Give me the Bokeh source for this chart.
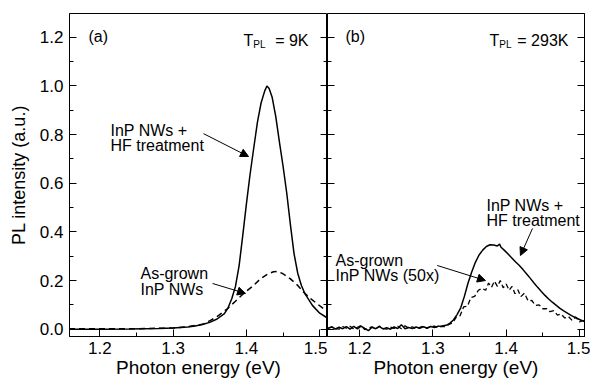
from bokeh.plotting import figure
from bokeh.layouts import row
from bokeh.models import Range1d, LinearAxis, FixedTicker, Label, Arrow, NormalHead
from bokeh.embed import file_html
from bokeh.resources import INLINE

# ---------------- data ----------------
# panel (a): T_PL = 9K
a_hf_x = [1.158, 1.20, 1.24, 1.28, 1.30, 1.32, 1.33, 1.34, 1.35, 1.36, 1.37, 1.375,
          1.38, 1.385, 1.39, 1.395, 1.40, 1.405, 1.41, 1.415, 1.42, 1.425, 1.428,
          1.431, 1.435, 1.44, 1.445, 1.45, 1.455, 1.46, 1.465, 1.47, 1.475, 1.48,
          1.49, 1.50, 1.511]
a_hf_y = [0.0, 0.0, 0.001, 0.003, 0.005, 0.009, 0.013, 0.019, 0.028, 0.042, 0.064, 0.088,
          0.125, 0.175, 0.26, 0.385, 0.515, 0.637, 0.745, 0.85, 0.93, 0.98, 1.0,
          0.99, 0.955, 0.875, 0.77, 0.67, 0.56, 0.43, 0.31, 0.23, 0.18, 0.145,
          0.098, 0.066, 0.045]

a_ag_x = [1.158, 1.25, 1.30, 1.32, 1.34, 1.351, 1.36, 1.374, 1.385, 1.3965, 1.41,
          1.419, 1.43, 1.437, 1.442, 1.45, 1.46, 1.47, 1.478, 1.488, 1.4966, 1.505, 1.511]
a_ag_y = [0.002, 0.002, 0.005, 0.01, 0.02, 0.036, 0.052, 0.084, 0.115, 0.148, 0.18,
          0.207, 0.228, 0.236, 0.238, 0.228, 0.207, 0.18, 0.152, 0.125, 0.104, 0.085, 0.072]

# panel (b): T_PL = 293K
b_hf_x = [1.157, 1.162, 1.167, 1.172, 1.177, 1.182, 1.187, 1.192, 1.197, 1.202, 1.207,
          1.212, 1.217, 1.222, 1.227, 1.232, 1.237, 1.242, 1.247, 1.252, 1.257, 1.262,
          1.267, 1.272, 1.277, 1.282, 1.287, 1.292, 1.297, 1.302, 1.307, 1.312, 1.318,
          1.323, 1.328, 1.333, 1.338, 1.343, 1.348, 1.353, 1.358, 1.363, 1.368, 1.373,
          1.378, 1.383, 1.388, 1.391, 1.393, 1.398, 1.403, 1.408, 1.413, 1.418, 1.423,
          1.428, 1.433, 1.438, 1.443, 1.448, 1.453, 1.458, 1.463, 1.468, 1.473, 1.478,
          1.483, 1.488, 1.493, 1.498, 1.503, 1.508]
b_hf_y = [0.004, 0.009, 0.001, 0.008, 0.002, 0.011, 0.000, 0.012, 0.001, 0.013, 0.003,
          -0.006, 0.008, 0.002, 0.011, 0.001, 0.006, 0.000, 0.009, 0.003, 0.018, 0.002,
          0.007, 0.003, 0.009, 0.004, 0.010, 0.005, 0.011, 0.007, 0.012, 0.013, 0.016,
          0.024, 0.038, 0.060, 0.088, 0.135, 0.19, 0.235, 0.275, 0.305, 0.325, 0.34,
          0.347, 0.346, 0.342, 0.350, 0.337, 0.323, 0.308, 0.292, 0.276, 0.262, 0.245,
          0.227, 0.209, 0.19, 0.172, 0.155, 0.139, 0.124, 0.111, 0.099, 0.087, 0.076,
          0.067, 0.058, 0.05, 0.043, 0.036, 0.03]

b_ag_x = [1.157, 1.162, 1.167, 1.172, 1.177, 1.182, 1.187, 1.192, 1.197, 1.202, 1.207,
          1.212, 1.217, 1.222, 1.227, 1.232, 1.237, 1.242, 1.247, 1.252, 1.257, 1.262,
          1.267, 1.272, 1.277, 1.282, 1.287, 1.292, 1.297, 1.302, 1.307, 1.312, 1.317,
          1.322, 1.327, 1.332, 1.337, 1.342, 1.347, 1.352, 1.357, 1.362, 1.367, 1.372,
          1.376, 1.380, 1.384, 1.388, 1.392, 1.396, 1.400, 1.404, 1.408, 1.412, 1.416,
          1.420, 1.425, 1.430, 1.435, 1.440, 1.445, 1.450, 1.455, 1.460, 1.465, 1.470,
          1.475, 1.480, 1.485, 1.490, 1.495, 1.500, 1.505, 1.508]
b_ag_y = [0.003, 0.010, 0.002, 0.000, 0.011, 0.004, 0.012, 0.001, 0.008, 0.015, -0.002,
          0.005, 0.010, 0.001, 0.013, 0.004, 0.000, 0.009, 0.003, 0.012, 0.002, 0.014,
          0.004, 0.010, 0.001, 0.008, 0.012, 0.003, 0.011, 0.013, 0.006, 0.012, 0.010,
          0.020, 0.026, 0.050, 0.055, 0.092, 0.094, 0.130, 0.135, 0.160, 0.168, 0.160,
          0.190, 0.172, 0.198, 0.176, 0.200, 0.170, 0.186, 0.160, 0.176, 0.146, 0.162,
          0.134, 0.148, 0.116, 0.118, 0.098, 0.100, 0.084, 0.085, 0.072, 0.076, 0.058,
          0.062, 0.046, 0.052, 0.036, 0.050, 0.030, 0.036, 0.022]

x_ticks = [1.2, 1.3, 1.4, 1.5]
x_tick_labels = ["1.2", "1.3", "1.4", "1.5"]
x_minor = [1.25, 1.35, 1.45]
y_ticks = [0.0, 0.2, 0.4, 0.6, 0.8, 1.0, 1.2]
y_tick_labels = ["0.0", "0.2", "0.4", "0.6", "0.8", "1.0", "1.2"]
y_minor = [0.1, 0.3, 0.5, 0.7, 0.9, 1.1]
x_title = "Photon energy (eV)"
y_title = "PL intensity (a.u.)"

FONT = "Liberation Sans"
TICK_FS = "17px"
ANN_FS = "16px"


def style_axis(ax, ticks, minor, labels, show_labels=True):
    ax.ticker = FixedTicker(ticks=ticks, minor_ticks=minor)
    ax.axis_line_color = "black"
    ax.axis_line_width = 1
    ax.major_tick_line_color = "black"
    ax.minor_tick_line_color = "black"
    ax.major_tick_in = 7
    ax.major_tick_out = 0
    ax.minor_tick_in = 4
    ax.minor_tick_out = 0
    ax.major_label_text_font = FONT
    ax.major_label_text_font_size = TICK_FS
    ax.major_label_text_color = "black"
    ax.axis_label_text_font = FONT
    ax.axis_label_text_font_style = "normal"
    ax.axis_label_text_color = "black"
    if show_labels:
        ax.major_label_overrides = {t: l for t, l in zip(ticks, labels)}
    else:
        ax.major_label_overrides = {t: "" for t in ticks}
        ax.major_label_standoff = 0


def make_fig(xr, width, left_border, right_border):
    p = figure(width=width, height=381, x_range=Range1d(*xr), y_range=Range1d(-0.03, 1.298),
               output_backend="svg", toolbar_location=None,
               min_border_left=left_border, min_border_right=right_border,
               min_border_top=13, min_border_bottom=45)
    p.xgrid.visible = False
    p.ygrid.visible = False
    p.outline_line_color = "black"
    p.outline_line_width = 1
    p.background_fill_color = "white"
    p.border_fill_color = "white"
    return p


def label(p, x, y, text, size=ANN_FS, align="left", baseline="alphabetic"):
    p.add_layout(Label(x=x, y=y, text=text, text_font=FONT, text_font_size=size,
                       text_color="black", text_align=align, text_baseline=baseline))


def arrow(p, x0, y0, x1, y1):
    p.add_layout(Arrow(end=NormalHead(size=8, fill_color="black", line_color="black", line_width=1),
                       x_start=x0, y_start=y0, x_end=x1, y_end=y1,
                       line_color="black", line_width=1))


def set_xtitle(p):
    ax = p.xaxis[0]
    ax.axis_label = x_title
    ax.axis_label_text_font_size = "19px"
    ax.axis_label_standoff = 0
    ax.major_label_standoff = 5


# ---------------- panel (a) ----------------
pa = make_fig((1.1587, 1.5106), 327, 69, 0)
style_axis(pa.xaxis[0], x_ticks, x_minor, x_tick_labels)
set_xtitle(pa)
style_axis(pa.yaxis[0], y_ticks, y_minor, y_tick_labels)
pa.yaxis[0].major_label_standoff = 6
pa.yaxis[0].axis_label = y_title
pa.yaxis[0].axis_label_text_font_size = "18px"
pa.yaxis[0].axis_label_standoff = 8
ra = LinearAxis()
style_axis(ra, y_ticks, y_minor, y_tick_labels, show_labels=False)
pa.add_layout(ra, "right")

pa.line(a_hf_x, a_hf_y, line_color="black", line_width=1.5)
pa.line(a_ag_x, a_ag_y, line_color="black", line_width=1.5, line_dash="6 4")

label(pa, 1.1846, 1.203, "(a)")
label(pa, 1.396, 1.189, "T")
label(pa, 1.4094, 1.172, "PL", size="10px")
label(pa, 1.4847, 1.189, "= 9K", align="right")
label(pa, 1.2146, 0.817, "InP NWs +")
label(pa, 1.2146, 0.755, "HF treatment")
arrow(pa, 1.3415, 0.804, 1.4029, 0.710)
label(pa, 1.2555, 0.229, "As-grown")
label(pa, 1.2555, 0.163, "InP NWs")
arrow(pa, 1.3538, 0.188, 1.3988, 0.147)

# ---------------- panel (b) ----------------
pb = make_fig((1.1562, 1.5069), 263, 0, 6)
style_axis(pb.xaxis[0], x_ticks, x_minor, x_tick_labels)
set_xtitle(pb)
style_axis(pb.yaxis[0], y_ticks, y_minor, y_tick_labels, show_labels=False)
rb = LinearAxis()
style_axis(rb, y_ticks, y_minor, y_tick_labels, show_labels=False)
pb.add_layout(rb, "right")

pb.line(b_hf_x, b_hf_y, line_color="black", line_width=1.5)
pb.line(b_ag_x, b_ag_y, line_color="black", line_width=1.3, line_dash="5 3")

label(pb, 1.1808, 1.203, "(b)")
label(pb, 1.3772, 1.189, "T")
label(pb, 1.3906, 1.172, "PL", size="10px")
label(pb, 1.485, 1.189, "= 293K", align="right")
label(pb, 1.3731, 0.508, "InP NWs +")
label(pb, 1.3731, 0.447, "HF treatment")
arrow(pb, 1.4359, 0.414, 1.4195, 0.303)
label(pb, 1.1671, 0.282, "As-grown")
label(pb, 1.1671, 0.221, "InP NWs (50x)")
arrow(pb, 1.3059, 0.262, 1.3718, 0.200)

layout = row(pa, pb, spacing=0)
open("out.html", "w").write(file_html(layout, INLINE))
